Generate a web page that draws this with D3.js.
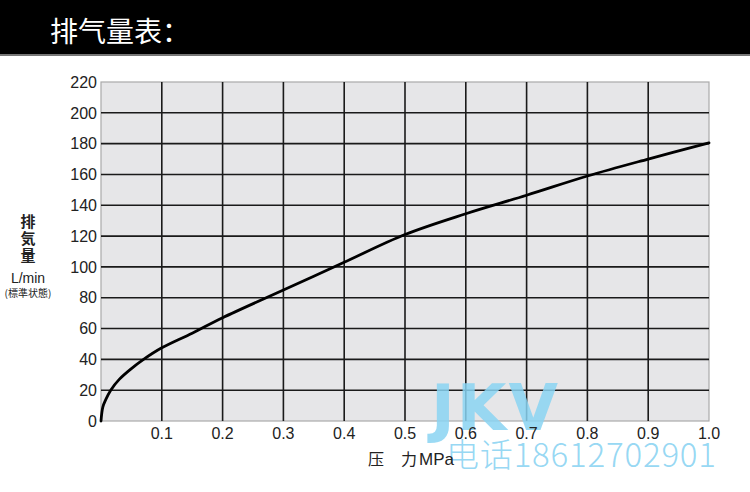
<!DOCTYPE html>
<html><head><meta charset="utf-8">
<script src="https://cdn.jsdelivr.net/npm/d3@7"></script>
<style>body{margin:0;background:#fff;}svg{display:block;}</style>
</head><body>
<svg id="c" width="750" height="492"></svg>
<script>
const pressure = [0, 0.003, 0.008, 0.016, 0.03, 0.05, 0.07, 0.1, 0.15, 0.2, 0.3, 0.4, 0.5, 0.6, 0.7, 0.8, 0.9, 1.0];
const flow     = [0, 9, 14, 20, 27, 34, 40, 47.5, 57, 67, 85, 103, 121, 134.5, 146.5, 159, 170, 180.5];
const xTicks = [0.1, 0.2, 0.3, 0.4, 0.5, 0.6, 0.7, 0.8, 0.9, 1.0];
const yTicks = [0, 20, 40, 60, 80, 100, 120, 140, 160, 180, 200, 220];
const title = "排气量表：";
const xTitle = "压　力 MPa";
const yTitleLines = ["排", "気", "量"];

const svg = d3.select("#c");
const F = "'Liberation Sans', Arial, Helvetica, sans-serif";
const CJK = "'Noto Sans CJK SC', 'Noto Sans CJK JP', sans-serif";

// title bar
svg.append("rect").attr("x",0).attr("y",0).attr("width",750).attr("height",54).attr("fill","#000");
svg.append("rect").attr("x",0).attr("y",54).attr("width",750).attr("height",2).attr("fill","#777");
svg.append("text").attr("x",50).attr("y",42).attr("fill","#fff").attr("font-family",CJK)
  .attr("font-size",28).text(title);

const x = d3.scaleLinear().domain([0,1]).range([101,709]);
const y = d3.scaleLinear().domain([0,220]).range([421,82]);

// plot bg
svg.append("rect").attr("x",x(0)).attr("y",y(220)).attr("width",x(1)-x(0)).attr("height",y(0)-y(220))
  .attr("fill","#e6e6e8").attr("stroke","#aaa").attr("stroke-width",1.2);

// grid
svg.append("g").selectAll("line").data(yTicks.filter(d=>d>0&&d<220)).join("line")
  .attr("x1",x(0)).attr("x2",x(1)).attr("y1",d=>y(d)).attr("y2",d=>y(d))
  .attr("stroke","#1a1a1a").attr("stroke-width",1.6);
svg.append("g").selectAll("line").data(xTicks.filter(d=>d<1)).join("line")
  .attr("x1",d=>x(d)).attr("x2",d=>x(d)).attr("y1",y(0)).attr("y2",y(220))
  .attr("stroke","#1a1a1a").attr("stroke-width",1.6);

// curve
const pts = pressure.map((p,i)=>[p,flow[i]]);
svg.append("path").datum(pts)
  .attr("d", d3.line().x(d=>x(d[0])).y(d=>y(d[1])).curve(d3.curveCatmullRom.alpha(0.5)))
  .attr("fill","none").attr("stroke","#000").attr("stroke-width",2.8).attr("stroke-linecap","round");

// watermark
svg.append("text").attr("x",431).attr("y",430).attr("font-family","'DejaVu Sans', sans-serif")
  .attr("font-weight","bold").attr("font-size",64).attr("fill","#8ad3f2").attr("fill-opacity",0.85)
  .attr("letter-spacing",2).text("JKV");
svg.append("text").attr("x",446).attr("y",467).attr("font-family","'Noto Sans CJK SC', sans-serif")
  .attr("font-weight",300).attr("font-size",33).attr("fill","#8ad3f2").attr("fill-opacity",0.9)
  .attr("textLength",270).text("电话18612702901");

// y tick labels
svg.append("g").selectAll("text").data(yTicks).join("text")
  .attr("x",97).attr("y",d=>y(d)).attr("dy","0.36em").attr("text-anchor","end")
  .attr("font-family",F).attr("font-size",16).attr("fill","#222").text(d=>d);
// x tick labels
svg.append("g").selectAll("text").data(xTicks).join("text")
  .attr("x",d=>x(d)).attr("y",439).attr("text-anchor","middle")
  .attr("font-family",F).attr("font-size",16).attr("fill","#222").text(d=>d.toFixed(1));

// axis titles
svg.append("text").attr("x",368).attr("y",465).attr("font-family",CJK).attr("font-size",16)
  .attr("fill","#222").text("压");
svg.append("text").attr("x",401).attr("y",465).attr("font-family",CJK).attr("font-size",16)
  .attr("fill","#222").text("力");
svg.append("text").attr("x",419).attr("y",465).attr("font-family",F).attr("font-size",17)
  .attr("fill","#222").text("MPa");
svg.append("g").selectAll("text").data(yTitleLines).join("text")
  .attr("x",28).attr("y",(d,i)=>227+i*17).attr("text-anchor","middle")
  .attr("font-family",CJK).attr("font-size",15).attr("font-weight","bold").attr("fill","#222").text(d=>d);
svg.append("text").attr("x",28).attr("y",283).attr("text-anchor","middle").attr("font-family",F)
  .attr("font-size",14).attr("fill","#222").text("L/min");
svg.append("text").attr("x",28).attr("y",297).attr("text-anchor","middle").attr("font-family",CJK)
  .attr("font-size",10).attr("fill","#222").text("(標準状態)");
</script>
</body></html>
